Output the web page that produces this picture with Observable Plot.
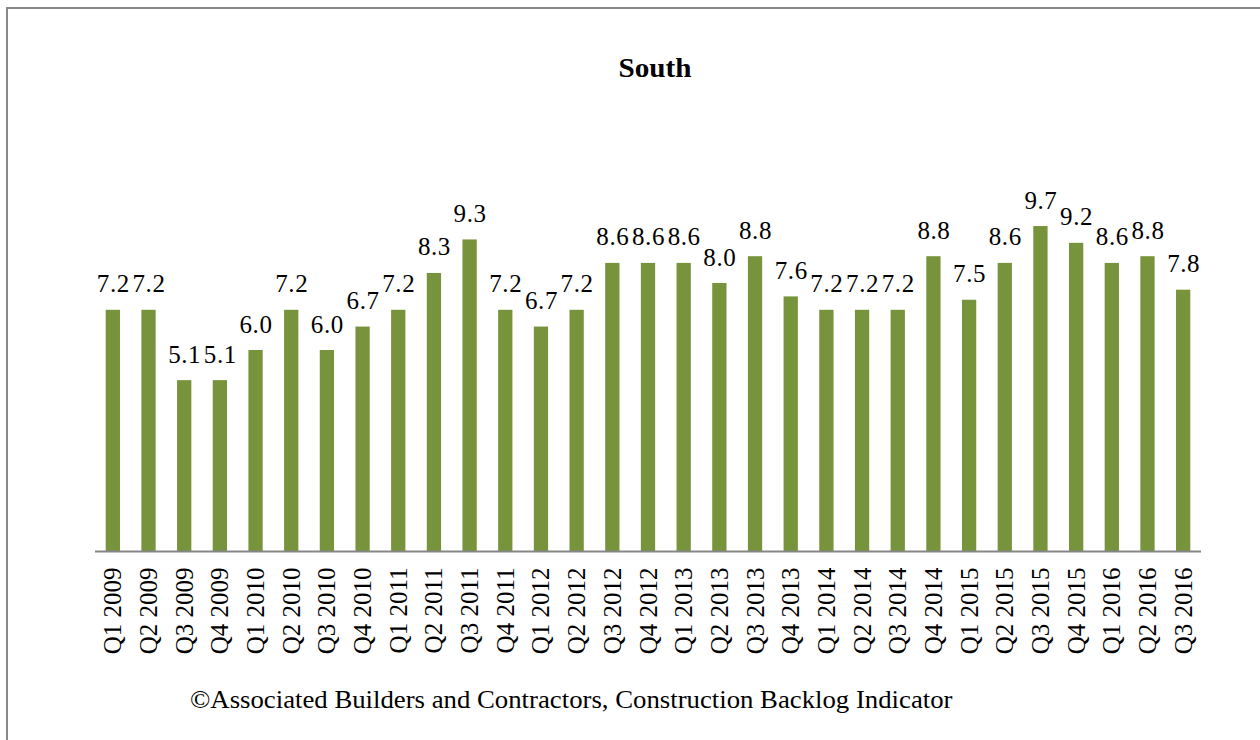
<!DOCTYPE html>
<html>
<head>
<meta charset="utf-8">
<script src="https://cdn.jsdelivr.net/npm/d3@7"></script>
<script src="https://cdn.jsdelivr.net/npm/@observablehq/plot@0.6"></script>
<style>
  html, body { margin: 0; padding: 0; background: #fff; overflow: hidden; }
  #frame { position: absolute; left: 6px; top: 7px; width: 1400px; height: 900px; border: 2px solid #898989; box-sizing: border-box; }
  #title { position: absolute; left: 655px; top: 53px; transform: translateX(-50%) scaleX(1.08); font-family: "Liberation Serif", serif; font-weight: bold; font-size: 27px; color: #000; white-space: nowrap; }
  #chart { position: absolute; left: 0; top: 0; }
  #caption { position: absolute; left: 190px; top: 686px; transform-origin: left center; transform: scaleX(1.07); font-family: "Liberation Serif", serif; font-size: 25px; color: #000; white-space: nowrap; }
</style>
</head>
<body>
<div id="frame"></div>
<div id="title">South</div>
<div id="chart"></div>
<div id="caption">©Associated Builders and Contractors, Construction Backlog Indicator</div>
<script>
const quarters = ["Q1 2009","Q2 2009","Q3 2009","Q4 2009","Q1 2010","Q2 2010","Q3 2010","Q4 2010",
  "Q1 2011","Q2 2011","Q3 2011","Q4 2011","Q1 2012","Q2 2012","Q3 2012","Q4 2012",
  "Q1 2013","Q2 2013","Q3 2013","Q4 2013","Q1 2014","Q2 2014","Q3 2014","Q4 2014",
  "Q1 2015","Q2 2015","Q3 2015","Q4 2015","Q1 2016","Q2 2016","Q3 2016"];
const backlog = [7.2,7.2,5.1,5.1,6.0,7.2,6.0,6.7,7.2,8.3,9.3,7.2,6.7,7.2,8.6,8.6,
  8.6,8.0,8.8,7.6,7.2,7.2,7.2,8.8,7.5,8.6,9.7,9.2,8.6,8.8,7.8];

const data = quarters.map((q, i) => ({quarter: q, value: backlog[i]}));
const serif = "Liberation Serif, serif";

const chart = Plot.plot({
  width: 1260,
  height: 740,
  marginLeft: 95,
  marginRight: 59,
  marginTop: 216,
  marginBottom: 189,
  style: {background: "none", fontFamily: serif, color: "#000"},
  x: {domain: quarters, paddingInner: 0.6, paddingOuter: 0.3, round: false, label: null, tickRotate: -90, tickSize: 0, tickPadding: 16},
  y: {domain: [0, 10], axis: null},
  marks: [
    Plot.barY(data, {x: "quarter", y: "value", fill: "#77933C"}),
    Plot.ruleY([0], {stroke: "#868686", strokeWidth: 2}),
    Plot.text(data, {x: "quarter", y: "value", text: d => d.value.toFixed(1), dy: -18, lineAnchor: "bottom", fontSize: 25, fontFamily: serif, fill: "#000"}),
    Plot.axisX({domain: quarters, tickRotate: -90, tickSize: 0, tickPadding: 16, fontSize: 25, fontFamily: serif, label: null, fill: "#000"})
  ]
});
d3.select(chart).selectAll("g[aria-label='text'] text").attr("letter-spacing", "0.6px");
document.getElementById("chart").appendChild(chart);
</script>
</body>
</html>
